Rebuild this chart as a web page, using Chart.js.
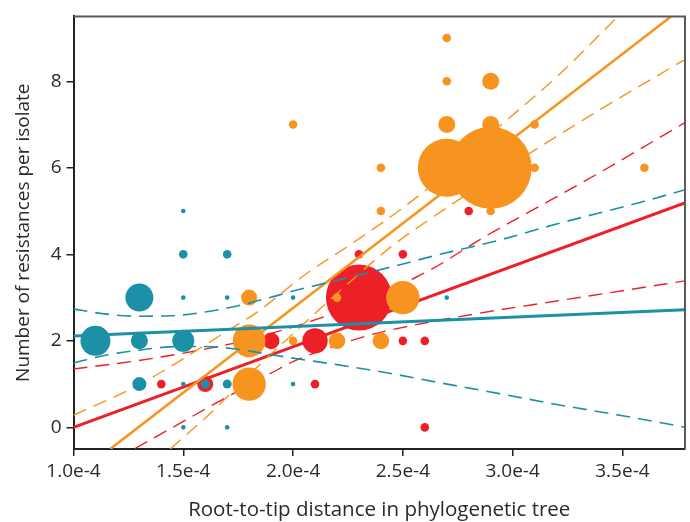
<!DOCTYPE html>
<html>
<head>
<meta charset="utf-8">
<script src="https://cdn.jsdelivr.net/npm/chart.js@4.4.1/dist/chart.umd.min.js"></script>
<style>
  html, body { margin: 0; padding: 0; background: #fff; }
  canvas { display: block; }
</style>
</head>
<body>
<canvas id="chart" width="690" height="522"></canvas>
<script>
// bubbles: root-to-tip distance, number of resistances, bubble radius (px)
const tealX = [1.1e-4, 1.3e-4, 1.3e-4, 1.3e-4, 1.5e-4, 1.5e-4, 1.5e-4, 1.5e-4, 1.5e-4, 1.5e-4, 1.6e-4, 1.7e-4, 1.7e-4, 1.7e-4, 1.7e-4, 2.0e-4, 2.0e-4, 2.7e-4];
const tealY = [2, 3, 2, 1, 2, 4, 5, 3, 1, 0, 1, 4, 3, 1, 0, 3, 1, 3];
const tealR = [15, 14, 8.5, 7, 11, 4.3, 2.3, 2.3, 2.3, 2.3, 4.5, 4.3, 2.3, 4.5, 2.3, 2.3, 2.3, 2.3];

const redX = [1.4e-4, 1.6e-4, 1.9e-4, 2.1e-4, 2.1e-4, 2.3e-4, 2.3e-4, 2.5e-4, 2.5e-4, 2.6e-4, 2.6e-4, 2.8e-4];
const redY = [1, 1, 2, 2, 1, 4, 3, 4, 2, 2, 0, 5];
const redR = [4.3, 8, 8.3, 12.7, 4.3, 4.3, 33, 4.3, 4.3, 4.3, 4.3, 4.3];

const orangeX = [1.8e-4, 1.8e-4, 1.8e-4, 2.0e-4, 2.0e-4, 2.2e-4, 2.2e-4, 2.4e-4, 2.4e-4, 2.4e-4, 2.5e-4, 2.7e-4, 2.7e-4, 2.7e-4, 2.7e-4, 2.9e-4, 2.9e-4, 2.9e-4, 2.9e-4, 3.1e-4, 3.1e-4, 3.6e-4];
const orangeY = [3, 2, 1, 2, 7, 3, 2, 6, 5, 2, 3, 9, 8, 7, 6, 8, 7, 6, 5, 7, 6, 6];
const orangeR = [8, 16.3, 16.7, 4.3, 4.3, 4.3, 8.3, 4.3, 4.3, 8.3, 16.7, 4.3, 4.3, 8.5, 29, 8.5, 8.5, 41, 4.3, 4.3, 4.3, 4.3];

// fitted lines and confidence bands as [x, y]
const tealFit = [[1.0e-4, 2.11], [3.79e-4, 2.72]];
const tealUpper = [[1.0e-4, 2.74], [1.13e-4, 2.63], [1.29e-4, 2.57], [1.44e-4, 2.58], [1.59e-4, 2.66], [1.74e-4, 2.80], [1.9e-4, 3.01], [2.0e-4, 3.15], [2.2e-4, 3.40], [2.44e-4, 3.70], [2.67e-4, 4.00], [2.94e-4, 4.33], [3.2e-4, 4.70], [3.58e-4, 5.20], [3.79e-4, 5.50]];
const tealLower = [[1.0e-4, 1.49], [1.13e-4, 1.65], [1.29e-4, 1.78], [1.44e-4, 1.86], [1.59e-4, 1.87], [1.74e-4, 1.81], [1.9e-4, 1.68], [2.0e-4, 1.60], [2.2e-4, 1.45], [2.44e-4, 1.25], [2.67e-4, 1.03], [2.94e-4, 0.78], [3.2e-4, 0.53], [3.5e-4, 0.27], [3.79e-4, 0.0]];

const redFit = [[1.0e-4, 0.0], [3.79e-4, 5.2]];
const redUpper = [[1.0e-4, 1.35], [1.29e-4, 1.54], [1.59e-4, 1.80], [1.74e-4, 1.96], [2.0e-4, 2.32], [2.12e-4, 2.52], [2.34e-4, 2.90], [2.52e-4, 3.37], [2.64e-4, 3.68], [2.87e-4, 4.40], [3.09e-4, 5.02], [3.4e-4, 5.90], [3.79e-4, 7.06]];
const redLower = [[1.28e-4, -0.49], [1.48e-4, 0.08], [1.67e-4, 0.62], [1.91e-4, 1.28], [2.0e-4, 1.52], [2.34e-4, 2.12], [2.49e-4, 2.30], [2.85e-4, 2.64], [3.2e-4, 2.92], [3.79e-4, 3.39]];

const orangeFit = [[1.167e-4, -0.5], [3.72e-4, 9.49]];
const orangeUpper = [[1.0e-4, 0.28], [1.29e-4, 0.96], [1.44e-4, 1.40], [1.71e-4, 2.26], [1.83e-4, 2.64], [2.06e-4, 3.55], [2.28e-4, 4.29], [2.52e-4, 5.15], [2.75e-4, 6.10], [2.95e-4, 7.00], [3.2e-4, 8.10], [3.47e-4, 9.45]];
const orangeLower = [[1.44e-4, -0.5], [1.62e-4, 0.31], [1.85e-4, 1.46], [2.05e-4, 2.40], [2.21e-4, 3.14], [2.44e-4, 4.15], [2.66e-4, 4.94], [2.9e-4, 5.75], [3.07e-4, 6.31], [3.4e-4, 7.35], [3.78e-4, 8.49]];

const xTicks = [1.0e-4, 1.5e-4, 2.0e-4, 2.5e-4, 3.0e-4, 3.5e-4];
const yTicks = [0, 2, 4, 6, 8];

const TEAL = '#1b90a7';
const RED = '#ed1f27';
const ORANGE = '#f7941f';
const FONT = "'Open Sans', sans-serif";

const bubbles = (xs, ys, rs) => xs.map((x, i) => ({x: x, y: ys[i], r: rs[i]}));
const pts = arr => arr.map(p => ({x: p[0], y: p[1]}));

function bubbleSet(xs, ys, rs, color, order) {
  return {type: 'bubble', data: bubbles(xs, ys, rs), backgroundColor: color, borderWidth: 0, hoverRadius: 0, order: order};
}
function lineSet(arr, color, width, dashed, order) {
  return {
    type: 'line', data: pts(arr), borderColor: color, borderWidth: width,
    borderDash: dashed ? [14, 8] : [], pointRadius: 0, fill: false,
    cubicInterpolationMode: dashed ? 'monotone' : 'default', order: order
  };
}

// top and right frame lines
const frame = {
  id: 'frame',
  afterDraw(chart) {
    const {ctx, chartArea: a} = chart;
    ctx.save();
    ctx.strokeStyle = '#5a5a5a';
    ctx.lineWidth = 2;
    ctx.beginPath();
    ctx.moveTo(a.left, a.top);
    ctx.lineTo(a.right, a.top);
    ctx.lineTo(a.right, a.bottom);
    ctx.stroke();
    ctx.restore();
  }
};

new Chart(document.getElementById('chart'), {
  type: 'bubble',
  data: {
    datasets: [
      lineSet(tealFit, TEAL, 3, false, 0),
      lineSet(tealUpper, TEAL, 1.6, true, 0),
      lineSet(tealLower, TEAL, 1.6, true, 0),
      bubbleSet(tealX, tealY, tealR, TEAL, 1),
      lineSet(orangeFit, ORANGE, 2.6, false, 2),
      lineSet(orangeUpper, ORANGE, 1.4, true, 2),
      lineSet(orangeLower, ORANGE, 1.4, true, 2),
      bubbleSet(orangeX, orangeY, orangeR, ORANGE, 3),
      lineSet(redFit, RED, 3, false, 4),
      lineSet(redUpper, RED, 1.4, true, 4),
      lineSet(redLower, RED, 1.4, true, 4),
      bubbleSet(redX, redY, redR, RED, 5)
    ]
  },
  options: {
    responsive: false,
    animation: false,
    devicePixelRatio: 1,
    layout: {autoPadding: false, padding: {top: 13, right: 5, left: 0, bottom: 0}},
    plugins: {legend: {display: false}, tooltip: {enabled: false}},
    scales: {
      x: {
        type: 'linear',
        min: 1.0e-4,
        max: 3.785e-4,
        afterBuildTicks: s => { s.ticks = xTicks.map(v => ({value: v})); },
        afterFit: s => { s.height = 73; },
        border: {color: '#222', width: 2},
        grid: {drawOnChartArea: false, drawTicks: true, tickLength: 7, tickColor: '#222', lineWidth: 1.5},
        ticks: {color: '#2a2a2a', font: {family: FONT, size: 19}, padding: 4, callback: v => v.toExponential(1)},
        title: {display: true, text: 'Root-to-tip distance in phylogenetic tree', color: '#2a2a2a', font: {family: FONT, size: 20.5}, padding: {top: 0, bottom: 0}}
      },
      y: {
        type: 'linear',
        min: -0.5,
        max: 9.5,
        afterBuildTicks: s => { s.ticks = yTicks.map(v => ({value: v})); },
        afterFit: s => { s.width = 73.5; },
        border: {color: '#222', width: 2},
        grid: {drawOnChartArea: false, drawTicks: true, tickLength: 7, tickColor: '#222', lineWidth: 1.5},
        ticks: {color: '#2a2a2a', font: {family: FONT, size: 19}, padding: 5},
        title: {display: true, text: 'Number of resistances per isolate', color: '#2a2a2a', font: {family: FONT, size: 19}, padding: {top: 12, bottom: 0}}
      }
    }
  },
  plugins: [frame]
});
</script>
</body>
</html>
